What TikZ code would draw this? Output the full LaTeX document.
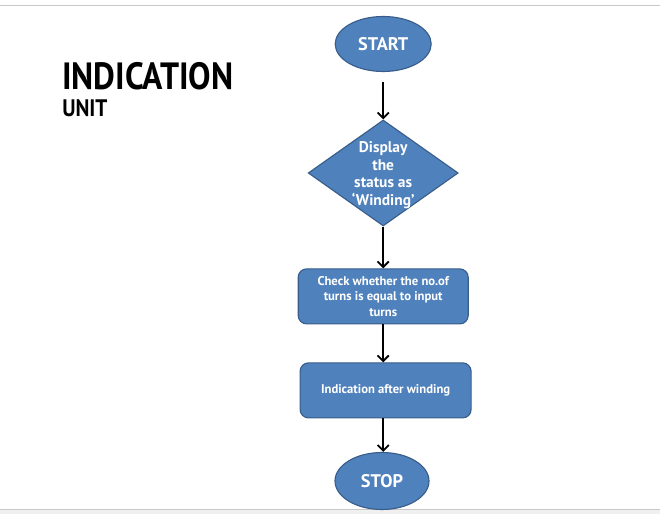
\documentclass[tikz,border=0pt]{standalone}
\usepackage{fontspec}
\setmainfont{PT Sans}
\newfontfamily\headfont[FakeStretch=0.885]{PT Sans}
\usetikzlibrary{shapes.geometric,arrows.meta}
\definecolor{flowblue}{RGB}{79,129,189}
\definecolor{flowedge}{RGB}{56,93,138}
\definecolor{rulegray}{RGB}{200,200,200}
\definecolor{footgray}{RGB}{240,240,240}

\begin{document}
\begin{tikzpicture}[
    terminal/.style={ellipse, draw=flowedge, fill=flowblue, line width=0.8pt,
        minimum width=2.4cm, minimum height=1.375cm, text=white,
        font=\bfseries\fontsize{13}{15}\selectfont},
    decision/.style={diamond, draw=flowedge, fill=flowblue, line width=0.8pt,
        minimum width=3.75cm, minimum height=2.65cm, inner sep=0pt},
    process/.style={rectangle, rounded corners=6pt, draw=flowedge, fill=flowblue,
        line width=0.8pt, minimum width=4.25cm, minimum height=1.375cm,
        text=white, align=center, font=\bfseries\fontsize{9}{11}\selectfont},
    flow/.style={-{Straight Barb[length=4pt,width=8pt]}, line width=1.3pt}]
    \useasboundingbox (0,0) rectangle (16.5,12.85);
    % page rules
    \fill[footgray] (0,0) rectangle (16.5,0.125);
    \draw[rulegray] (0,0.125) -- (16.5,0.125);
    \draw[rulegray] (0,12.725) -- (16.5,12.725);

    % heading
    \node[anchor=base west, inner sep=0pt, font=\headfont\bfseries\fontsize{27}{30}\selectfont] (title) at (1.55,10.6) {INDICATION};
    \node[anchor=base west, inner sep=0pt, font=\headfont\bfseries\fontsize{17}{19}\selectfont] (subtitle) at (1.55,9.925) {UNIT};

    % flow chart
    \node[terminal] (start) at (9.58,11.75) {START};
    \node[decision] (disp) at (9.58,8.525) {};
    \node[text=white, align=center, font=\bfseries\fontsize{11}{12.6}\selectfont] (disptext) at (9.58,8.47) {Display\\the\\status as\\`Winding'};
    \node[process] (check) at (9.58,5.44) {Check whether the no.of\\turns is equal to input\\turns};
    \node[process, minimum width=4.275cm] (indic) at (9.64,3.09) {Indication after winding};
    \node[terminal, minimum width=2.35cm, minimum height=1.425cm] (stop) at (9.55,0.825) {STOP};

    \draw[flow, shorten <=0.25cm] (start) -- (disp);
    \draw[flow] (disp) -- (check);
    \draw[flow] (check) -- (check |- indic.north);
    \draw[flow] (indic.south -| check) -- (check |- stop.north);
\end{tikzpicture}
\end{document}
